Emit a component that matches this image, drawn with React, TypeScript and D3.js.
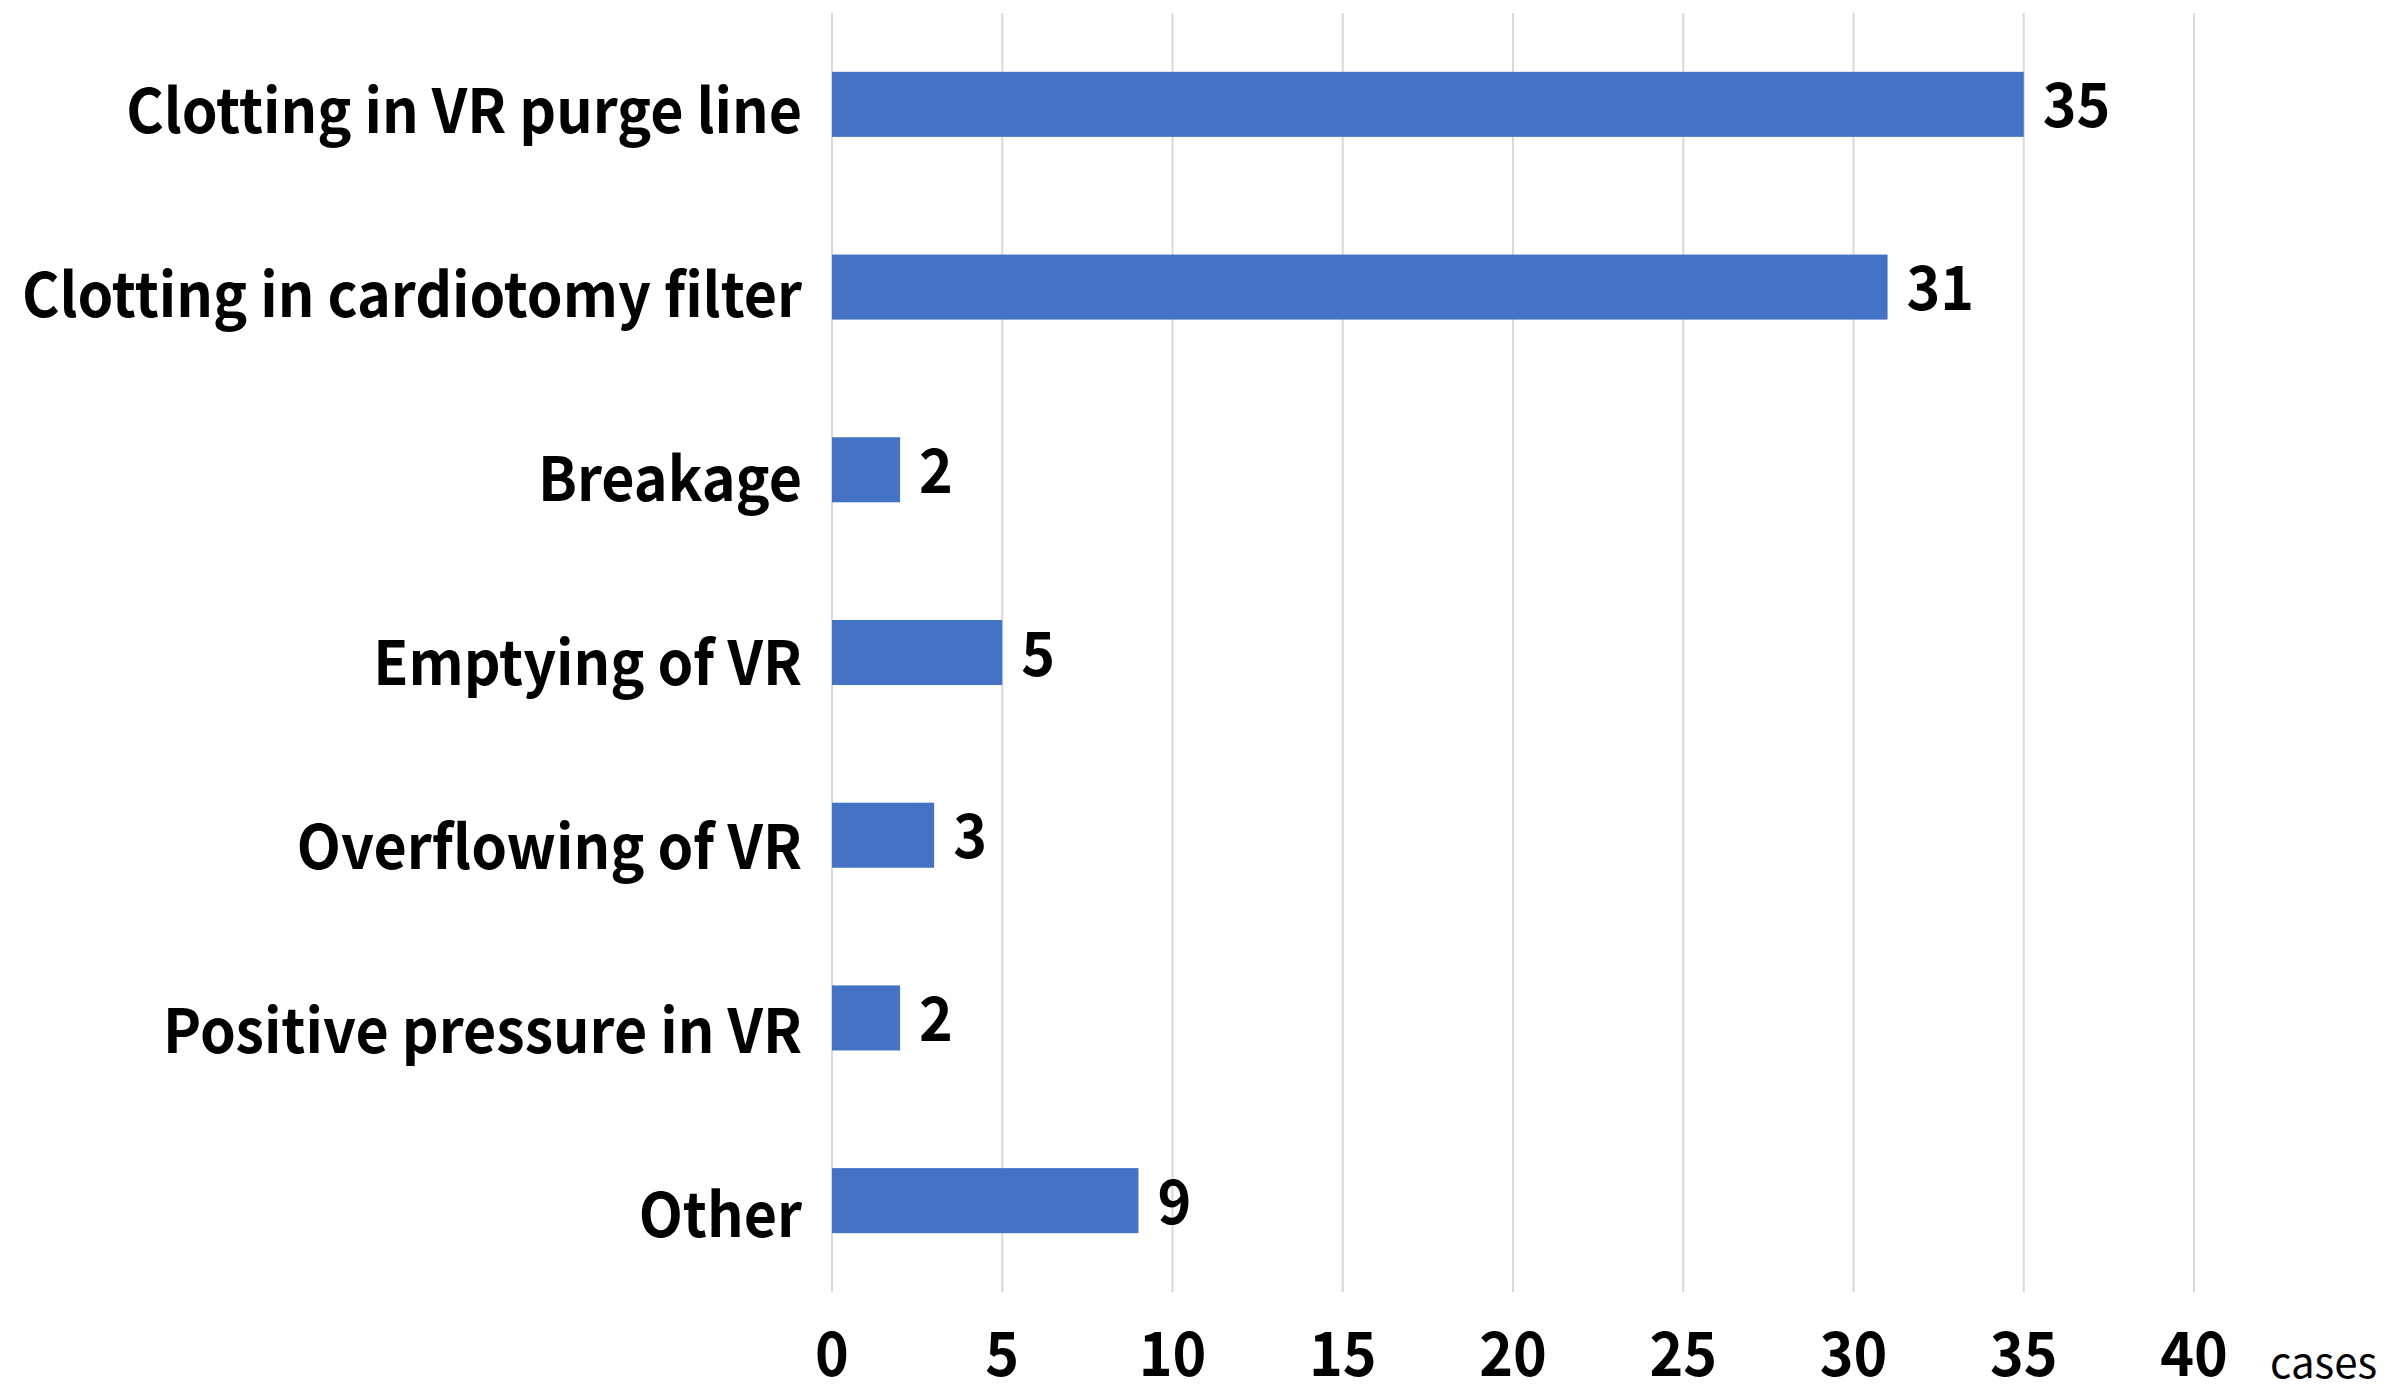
import React, { useEffect, useRef } from 'react';
import * as d3 from 'd3';

const categories = [
  'Clotting in VR purge line',
  'Clotting in cardiotomy filter',
  'Breakage',
  'Emptying of VR',
  'Overflowing of VR',
  'Positive pressure in VR',
  'Other',
];
const cases = [35, 31, 2, 5, 3, 2, 9];
const xTicks = [0, 5, 10, 15, 20, 25, 30, 35, 40];
const unitLabel = 'cases';

const W = 2403;
const H = 1393;
const FONT = '"Noto Sans CJK JP", "Noto Sans", sans-serif';
// the original font is a little narrower than Noto's latin glyphs
const SQUEEZE = 0.94;

export default function App() {
  const ref = useRef<SVGSVGElement>(null);

  useEffect(() => {
    document.body.style.margin = '0';
    const svg = d3.select(ref.current);
    svg.selectAll('*').remove();

    const x = d3.scaleLinear().domain([0, 40]).range([832, 2194]);
    const y = d3.scaleBand()
      .domain(categories)
      .range([13, 1292])
      .paddingInner(0.644)
      .paddingOuter(0.322);
    // label baselines sit a touch lower than the bars
    const yLab = d3.scalePoint().domain(categories).range([133, 1237]);

    const place = (tx: number, ty: number) => `translate(${tx},${ty}) scale(${SQUEEZE},1)`;

    // grid
    svg.append('g')
      .selectAll('line')
      .data(xTicks)
      .join('line')
      .attr('x1', d => x(d))
      .attr('x2', d => x(d))
      .attr('y1', 13)
      .attr('y2', 1292)
      .attr('stroke', '#d9d9d9')
      .attr('stroke-width', 2);

    // bars
    svg.append('g')
      .selectAll('rect')
      .data(categories)
      .join('rect')
      .attr('x', x(0))
      .attr('y', d => y(d)!)
      .attr('height', y.bandwidth())
      .attr('width', (d, i) => x(cases[i]) - x(0))
      .attr('fill', '#4472C4');

    // value labels
    svg.append('g')
      .selectAll('text')
      .data(categories)
      .join('text')
      .attr('transform', (d, i) => place(x(cases[i]) + 19, y(d)! + y.bandwidth() / 2 + 23))
      .attr('font-family', FONT)
      .attr('font-weight', 'bold')
      .attr('font-size', 61)
      .attr('fill', '#000')
      .text((d, i) => cases[i]);

    // category labels
    svg.append('g')
      .selectAll('text')
      .data(categories)
      .join('text')
      .attr('transform', d => place(802, yLab(d)!))
      .attr('text-anchor', 'end')
      .attr('font-family', FONT)
      .attr('font-weight', 'bold')
      .attr('font-size', 61)
      .attr('fill', '#000')
      .text(d => d);

    // x tick labels
    svg.append('g')
      .selectAll('text')
      .data(xTicks)
      .join('text')
      .attr('transform', d => place(x(d), 1376))
      .attr('text-anchor', 'middle')
      .attr('font-family', FONT)
      .attr('font-weight', 'bold')
      .attr('font-size', 61)
      .attr('fill', '#000')
      .text(d => d);

    svg.append('text')
      .attr('x', 2270)
      .attr('y', 1378)
      .attr('font-family', FONT)
      .attr('font-size', 42)
      .attr('fill', '#000')
      .text(unitLabel);
  }, []);

  return <svg ref={ref} width={W} height={H} style={{ display: 'block', background: '#fff' }} />;
}
